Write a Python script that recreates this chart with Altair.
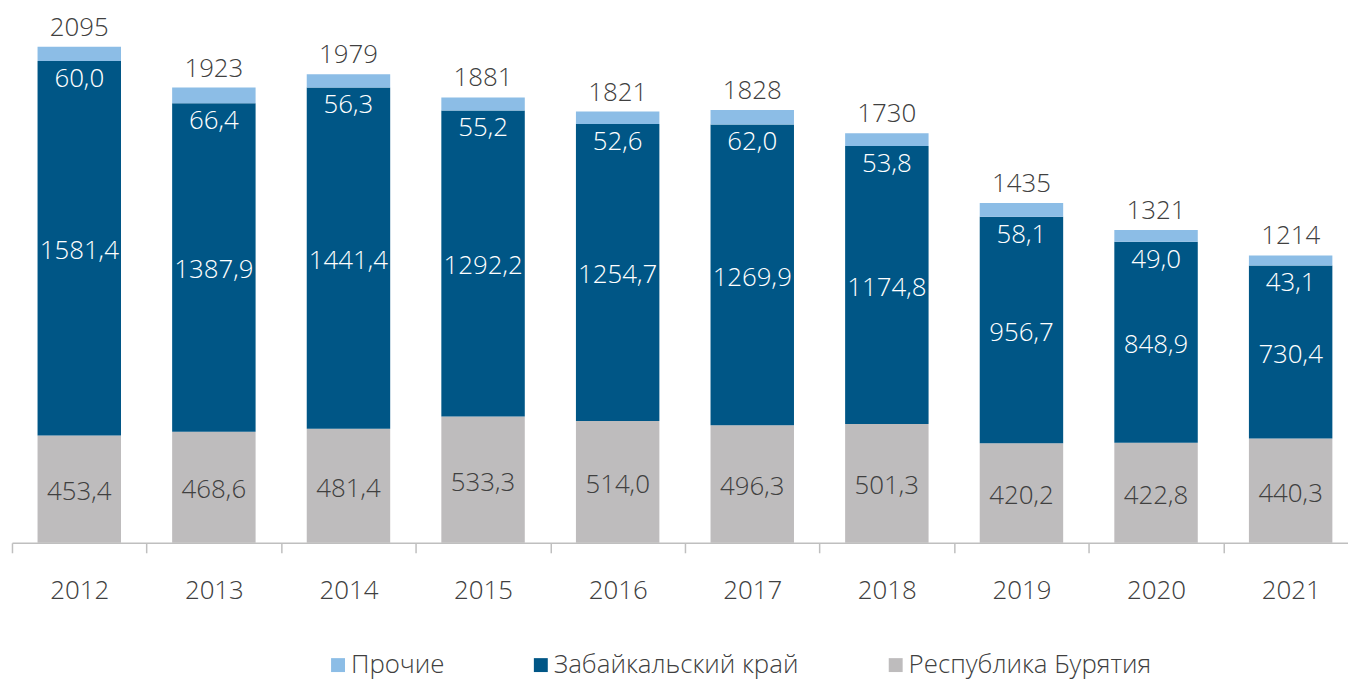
import altair as alt
import pandas as pd

years = ["2012", "2013", "2014", "2015", "2016", "2017", "2018", "2019", "2020", "2021"]
buryatia = [453.4, 468.6, 481.4, 533.3, 514.0, 496.3, 501.3, 420.2, 422.8, 440.3]
zabaikal = [1581.4, 1387.9, 1441.4, 1292.2, 1254.7, 1269.9, 1174.8, 956.7, 848.9, 730.4]
others = [60.0, 66.4, 56.3, 55.2, 52.6, 62.0, 53.8, 58.1, 49.0, 43.1]
totals = [2095, 1923, 1979, 1881, 1821, 1828, 1730, 1435, 1321, 1214]

series_names = ["Прочие", "Забайкальский край", "Республика Бурятия"]
colors = ["#8CBDE6", "#005686", "#BEBCBD"]

FONT = "Open Sans Light, Open Sans"
FW = 300
FS = 26

rows = []
for i, y in enumerate(years):
    b, z, o = buryatia[i], zabaikal[i], others[i]
    segs = [("Республика Бурятия", b, 0.0, b, 3),
            ("Забайкальский край", z, b, b + z, 2),
            ("Прочие", o, b + z, b + z + o, 1)]
    for name, v, lo, hi, order in segs:
        rows.append({"year": y, "series": name, "value": v, "lo": lo, "hi": hi,
                     "mid": (lo + hi) / 2, "order": order,
                     "label": f"{v:.1f}".replace(".", ",")})
df = pd.DataFrame(rows)
tot = pd.DataFrame({"year": years, "total": totals, "label": [str(t) for t in totals]})

xscale = alt.Scale(type="band", paddingInner=0, paddingOuter=0, range=[0, 1354])
xenc = alt.X("year:N", title=None, scale=xscale,
             axis=alt.Axis(domainColor="#BFBFBF", domainWidth=1.5, tickColor="#BFBFBF",
                           tickWidth=1.5, tickSize=10, tickBand="extent", labelAngle=0,
                           labelFont=FONT, labelFontWeight=FW, labelFontSize=FS,
                           labelColor="#404040", labelBaseline="alphabetic",
                           labelPadding=46, grid=False))
yscale = alt.Scale(domain=[0, 2250], nice=False, zero=True)

bars = alt.Chart(df).mark_bar(width=alt.RelativeBandSize(0.62)).encode(
    x=xenc,
    y=alt.Y("hi:Q", scale=yscale, axis=None),
    y2="lo:Q",
    color=alt.Color("series:N",
                    scale=alt.Scale(domain=series_names, range=colors),
                    legend=alt.Legend(title=None, orient="none", legendX=315, legendY=646,
                                      direction="horizontal", columns=3, padding=0,
                                      symbolType="square", symbolSize=196,
                                      symbolStrokeWidth=0, labelFont=FONT,
                                      labelFontWeight=FW, labelFontSize=FS,
                                      labelColor="#404040", labelOffset=0,
                                      labelLimit=400, columnPadding=84)),
)

base_text = alt.Chart(df)
lab_bur = base_text.transform_filter(alt.datum.series == "Республика Бурятия").mark_text(
    font=FONT, fontWeight=FW, fontSize=FS, color="#404040", baseline="middle", dy=3
).encode(x=xenc, y=alt.Y("mid:Q", scale=yscale), text="label:N")
lab_zab = base_text.transform_filter(alt.datum.series == "Забайкальский край").mark_text(
    font=FONT, fontWeight=FW, fontSize=FS, color="#FFFFFF", baseline="middle", dy=3
).encode(x=xenc, y=alt.Y("mid:Q", scale=yscale), text="label:N")
lab_oth = base_text.transform_filter(alt.datum.series == "Прочие").mark_text(
    font=FONT, fontWeight=FW, fontSize=FS, color="#FFFFFF", baseline="alphabetic", dy=26
).encode(x=xenc, y=alt.Y("lo:Q", scale=yscale), text="label:N")
lab_tot = alt.Chart(tot).mark_text(
    font=FONT, fontWeight=FW, fontSize=FS, color="#404040", baseline="alphabetic", dy=-11
).encode(x=xenc, y=alt.Y("total:Q", scale=yscale), text="label:N")

chart = alt.layer(bars, lab_bur, lab_zab, lab_oth, lab_tot).properties(
    width=1344, height=536,
    autosize=alt.AutoSizeParams(type="none"),
    padding={"left": 4, "top": 0, "right": 0, "bottom": 140},
).configure_view(stroke=None)

chart.save("out.html", embed_options={"renderer": "svg", "actions": False})
